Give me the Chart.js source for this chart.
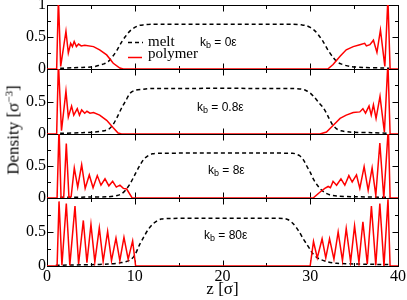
<!DOCTYPE html>
<html>
<head>
<meta charset="utf-8">
<script src="https://cdn.jsdelivr.net/npm/chart.js"></script>
<style>
    body { margin: 0; background: #fff; }
    #wrap { position: relative; width: 407px; height: 300px; overflow: hidden; background: #fff; }
    #wrap canvas { position: absolute; left: 0; top: 0; }
    .txt { position: absolute; white-space: nowrap; color: #000; }
    .serif { font-family: "Liberation Serif", "Times New Roman", serif; font-size: 15px; line-height: 15px; }
    .kb { font-family: "Liberation Sans", Arial, sans-serif; font-size: 12px; line-height: 12px; }
    .kb sub { font-size: 9px; vertical-align: -2px; line-height: 0; }
    #ytitle { font-family: "Liberation Serif", "Times New Roman", serif; font-size: 17px; line-height: 17px;
              left: 13px; top: 130px; transform: translate(-50%, -50%) rotate(-90deg); }
    #ytitle sup { font-size: 11px; vertical-align: 6px; line-height: 0; }
</style>
</head>
<body>
<div id="wrap">
    <canvas id="c0" width="407" height="300"></canvas>
    <canvas id="c1" width="407" height="300"></canvas>
    <canvas id="c2" width="407" height="300"></canvas>
    <canvas id="c3" width="407" height="300"></canvas>
</div>
<script>
// Valores: z [σ] y densidad [σ^-3]
const kbLabels = ['0ε', '0.8ε', '8ε', '80ε'];
const xTickLabels = [0, 10, 20, 30, 40];
const yTickLabels = [0, 0.5, 1];

// k_b = 0
const meltZ1 = [1.5, 3, 4, 5, 5.5, 6, 6.5, 7, 7.5, 8, 8.5, 9, 9.5, 10, 10.5, 11, 12, 13,
                27, 28, 29, 29.5, 30, 30.5, 31, 31.5, 32, 32.5, 33, 33.5, 34.5, 36, 38.5, 39];
const melt1 = [0.01, 0.02, 0.025, 0.03, 0.04, 0.06, 0.08, 0.12, 0.2, 0.3, 0.42, 0.52, 0.6, 0.65, 0.68, 0.69, 0.7, 0.7,
               0.7, 0.7, 0.69, 0.68, 0.65, 0.6, 0.52, 0.42, 0.3, 0.2, 0.12, 0.08, 0.04, 0.025, 0.015, 0.01];
const polyZ1 = [0, 1.1, 1.3, 1.56, 2.16, 2.43, 2.7, 2.9, 3.1, 3.35, 3.6, 3.9, 4.3, 5.3, 6.0, 6.8, 7.55, 8.3, 8.7,
                32.0, 32.6, 33.4, 34.1, 34.9, 35.65, 36.2, 36.4, 36.8, 37.2, 37.6, 38.0, 38.5, 38.85, 39.1, 40];
const poly1 = [0, 0, 1.1, 0.04, 0.59, 0.25, 0.4, 0.35, 0.43, 0.35, 0.39, 0.36, 0.37, 0.35, 0.3, 0.22, 0.09, 0.015, 0,
               0, 0.07, 0.2, 0.3, 0.35, 0.38, 0.4, 0.36, 0.38, 0.45, 0.26, 0.61, 0.04, 1.1, 0, 0];

// k_b = 0.8
const meltZ2 = [1.5, 4, 5.5, 6.5, 7, 7.5, 8, 8.5, 9, 9.5, 10, 11, 12,
                28, 29, 29.5, 30, 30.5, 31, 31.5, 32, 32.5, 33, 33.5, 34.5, 37, 39];
const melt2 = [0.01, 0.02, 0.03, 0.05, 0.07, 0.14, 0.26, 0.4, 0.52, 0.63, 0.67, 0.69, 0.7,
               0.7, 0.69, 0.67, 0.63, 0.56, 0.48, 0.4, 0.28, 0.15, 0.08, 0.05, 0.03, 0.02, 0.01];
const polyZ2 = [0, 1.1, 1.3, 1.65, 2.16, 2.43, 2.8, 3.05, 3.45, 3.7, 3.95, 4.3, 4.55, 4.9, 5.3, 6.0, 6.8, 7.55, 8.1, 8.5,
                31.1, 31.85, 32.6, 33.4, 34.1, 34.9, 35.65, 36.0, 36.3, 36.7, 36.95, 37.2, 37.5, 37.95, 38.45, 38.85, 39.1, 40];
const poly2 = [0, 0, 1.1, 0.05, 0.66, 0.26, 0.43, 0.29, 0.39, 0.29, 0.37, 0.32, 0.35, 0.32, 0.33, 0.29, 0.21, 0.095, 0.015, 0,
               0, 0.03, 0.13, 0.24, 0.29, 0.33, 0.34, 0.39, 0.32, 0.43, 0.29, 0.45, 0.24, 0.58, 0.03, 1.1, 0, 0];

// k_b = 8
const meltZ3 = [1.5, 5, 7, 8, 8.5, 9, 9.5, 10, 10.5, 11, 11.5, 12, 13,
                28, 28.5, 28.8, 29.2, 29.6, 30, 30.3, 30.7, 31.1, 31.6, 32.2, 33, 35, 39];
const melt3 = [0.01, 0.015, 0.02, 0.04, 0.065, 0.13, 0.23, 0.36, 0.49, 0.6, 0.66, 0.69, 0.7,
               0.7, 0.68, 0.66, 0.6, 0.5, 0.4, 0.31, 0.22, 0.15, 0.09, 0.05, 0.03, 0.02, 0.01];
const polyZ3 = [0, 1.15, 1.37, 1.6, 1.9, 2.2, 2.5, 2.75, 3.11, 3.5, 3.95, 4.35, 4.82, 5.25, 5.73, 6.15, 6.61, 7.05, 7.48, 7.9, 8.31, 8.7, 9.08, 9.7,
                30.33, 31.09, 31.66, 32.04, 32.3, 32.6, 33.0, 33.5, 33.94, 34.4, 34.78, 35.27, 35.65, 36.14, 36.6, 37.05, 37.47, 37.93, 38.38, 38.9, 39.1, 40];
const poly3 = [0, 0, 1.1, 0, 0, 0.85, 0.01, 0.02, 0.47, 0.17, 0.52, 0.15, 0.36, 0.16, 0.35, 0.2, 0.3, 0.19, 0.26, 0.17, 0.2, 0.15, 0.14, 0,
               0, 0.09, 0.15, 0.18, 0.16, 0.26, 0.2, 0.3, 0.2, 0.35, 0.25, 0.36, 0.15, 0.49, 0.12, 0.47, 0.04, 0.86, 0, 1.1, 0, 0];

// k_b = 80
const meltZ4 = [1, 5, 7, 8.5, 9.5, 10, 10.5, 11, 11.5, 12, 12.5, 13, 14,
                27, 27.5, 28, 28.5, 28.8, 29.2, 29.6, 30, 30.3, 30.7, 31.1, 32, 33, 35, 39];
const melt4 = [0.01, 0.02, 0.03, 0.05, 0.09, 0.16, 0.3, 0.42, 0.53, 0.61, 0.66, 0.69, 0.7,
               0.7, 0.68, 0.63, 0.55, 0.49, 0.4, 0.32, 0.24, 0.18, 0.13, 0.1, 0.06, 0.04, 0.03, 0.02];
const polyZ4 = [0, 1.15, 1.37, 1.7, 2.2, 2.6, 3.19, 3.6, 4.14, 4.55, 5.01, 5.45, 5.96, 6.4, 6.91, 7.35, 7.86, 8.3, 8.77, 9.25, 9.76, 10.1,
                29.99, 30.37, 30.8, 31.35, 31.77, 32.2, 32.7, 33.18, 33.67, 34.1, 34.6, 35.05, 35.55, 36.0, 36.5, 36.97, 37.47, 37.93, 38.4, 38.86, 39.1, 40];
const poly4 = [0, 0, 0.95, 0.01, 0.92, 0.01, 0.88, 0.03, 0.67, 0.05, 0.61, 0.06, 0.56, 0.07, 0.51, 0.08, 0.41, 0.08, 0.42, 0.1, 0.37, 0,
               0, 0.36, 0.12, 0.4, 0.12, 0.4, 0.1, 0.5, 0.08, 0.55, 0.06, 0.59, 0.05, 0.65, 0.03, 0.88, 0.01, 0.92, 0, 0.98, 0, 0];

const series = [
    { meltZ: meltZ1, melt: melt1, polyZ: polyZ1, poly: poly1 },
    { meltZ: meltZ2, melt: melt2, polyZ: polyZ2, poly: poly2 },
    { meltZ: meltZ3, melt: melt3, polyZ: polyZ3, poly: poly3 },
    { meltZ: meltZ4, melt: melt4, polyZ: polyZ4, poly: poly4 }
];

// Posición de cada panel en la página (px)
const panelTop = [5, 69, 134, 198];
const panelBottom = [69, 134, 198, 266];
const kbPos = [[200, 36], [197, 101], [208, 163.5], [204, 228.5]];

const serif = '"Liberation Serif", "Times New Roman", serif';

function toPoints(zs, vs) {
    return zs.map((z, i) => ({ x: z, y: vs[i] }));
}

// Marco y marcas hacia dentro (estilo xmgrace)
const framePlugin = {
    id: 'frame',
    beforeDatasetsDraw(chart) {
        const { ctx, chartArea: a, scales } = chart;
        const L = Math.round(a.left) + 0.5, R = Math.round(a.right) + 0.5;
        const T = Math.round(a.top) + 0.5, B = Math.round(a.bottom) + 0.5;
        ctx.save();
        ctx.strokeStyle = '#000';
        ctx.lineWidth = 1;
        ctx.strokeRect(L, T, R - L, B - T);
        ctx.beginPath();
        for (let v = 0; v <= 40; v += 5) {
            const px = Math.round(scales.x.getPixelForValue(v)) + 0.5;
            const len = v % 10 === 0 ? 6 : 3.5;
            ctx.moveTo(px, B); ctx.lineTo(px, B - len);
            ctx.moveTo(px, T); ctx.lineTo(px, T + len);
        }
        for (let v = 0; v <= 1; v += 0.25) {
            const py = Math.round(scales.y.getPixelForValue(v)) + 0.5;
            const len = v % 0.5 === 0 ? 6 : 3.5;
            ctx.moveTo(L, py); ctx.lineTo(L + len, py);
            ctx.moveTo(R, py); ctx.lineTo(R - len, py);
        }
        ctx.stroke();
        ctx.restore();
    },
    afterDatasetsDraw(chart, args, opts) {
        if (!opts.legend) return;
        const ctx = chart.ctx;
        ctx.save();
        ctx.lineWidth = 1.5;
        ctx.strokeStyle = '#000';
        ctx.setLineDash([4, 3]);
        ctx.beginPath(); ctx.moveTo(128, 42.5); ctx.lineTo(143, 42.5); ctx.stroke();
        ctx.setLineDash([]);
        ctx.strokeStyle = '#ff0000';
        ctx.beginPath(); ctx.moveTo(128, 57.5); ctx.lineTo(142, 57.5); ctx.stroke();
        ctx.restore();
    }
};

function makePanel(i) {
    const s = series[i];
    const last = i === series.length - 1;
    new Chart(document.getElementById('c' + i), {
        type: 'line',
        data: {
            datasets: [{
                label: 'polymer',
                data: toPoints(s.polyZ, s.poly),
                borderColor: '#ff0000',
                borderWidth: 1.5,
                pointRadius: 0,
                tension: 0
            }, {
                label: 'melt',
                data: toPoints(s.meltZ, s.melt),
                borderColor: '#000000',
                borderWidth: 1.5,
                borderDash: [4, 3],
                pointRadius: 0,
                tension: 0.3
            }]
        },
        options: {
            responsive: false,
            animation: false,
            events: [],
            layout: { padding: { left: 0, right: 9, top: panelTop[i], bottom: last ? 0 : 300 - panelBottom[i] } },
            plugins: {
                legend: { display: false },
                tooltip: { enabled: false },
                frame: { legend: i === 0 }
            },
            scales: {
                x: {
                    type: 'linear',
                    min: 0,
                    max: 40,
                    display: last,
                    grid: { display: false, drawTicks: false },
                    border: { display: false },
                    afterBuildTicks: (sc) => { sc.ticks = xTickLabels.map(v => ({ value: v })); },
                    ticks: {
                        autoSkip: false,
                        maxRotation: 0,
                        padding: 1,
                        color: '#000',
                        font: { family: serif, size: 16 }
                    },
                    title: {
                        display: true,
                        text: 'z [σ]',
                        color: '#000',
                        padding: 0,
                        font: { family: serif, size: 17 }
                    },
                    afterFit: (sc) => {
                        sc.height = last ? 300 - panelBottom[i] : 0;
                        sc.paddingLeft = 0; sc.paddingRight = 0;
                    }
                },
                y: {
                    min: 0,
                    max: 1,
                    grid: { display: false, drawTicks: false },
                    border: { display: false },
                    afterBuildTicks: (sc) => { sc.ticks = yTickLabels.map(v => ({ value: v })); },
                    ticks: {
                        padding: 1,
                        color: '#000',
                        font: { family: serif, size: 16 },
                        callback: (v) => (v === 1 && i > 0) ? null : String(v)
                    },
                    afterFit: (sc) => { sc.width = 47; sc.paddingTop = 0; sc.paddingBottom = 0; }
                }
            }
        },
        plugins: [framePlugin]
    });
}

series.forEach((s, i) => makePanel(i));

// Textos: leyenda, k_b y título del eje y
const wrap = document.getElementById('wrap');
function addText(html, cls, left, top, id) {
    const d = document.createElement('div');
    d.className = 'txt ' + cls;
    d.innerHTML = html;
    if (id) d.id = id;
    if (left !== null) { d.style.left = left + 'px'; d.style.top = top + 'px'; }
    wrap.appendChild(d);
}
addText('melt', 'serif', 148, 34);
addText('polymer', 'serif', 148, 45.5);
kbLabels.forEach((k, i) => addText('k<sub>b</sub> = ' + k, 'kb', kbPos[i][0], kbPos[i][1]));
addText('Density [σ<sup>−3</sup>]', '', null, null, 'ytitle');
</script>
</body>
</html>
